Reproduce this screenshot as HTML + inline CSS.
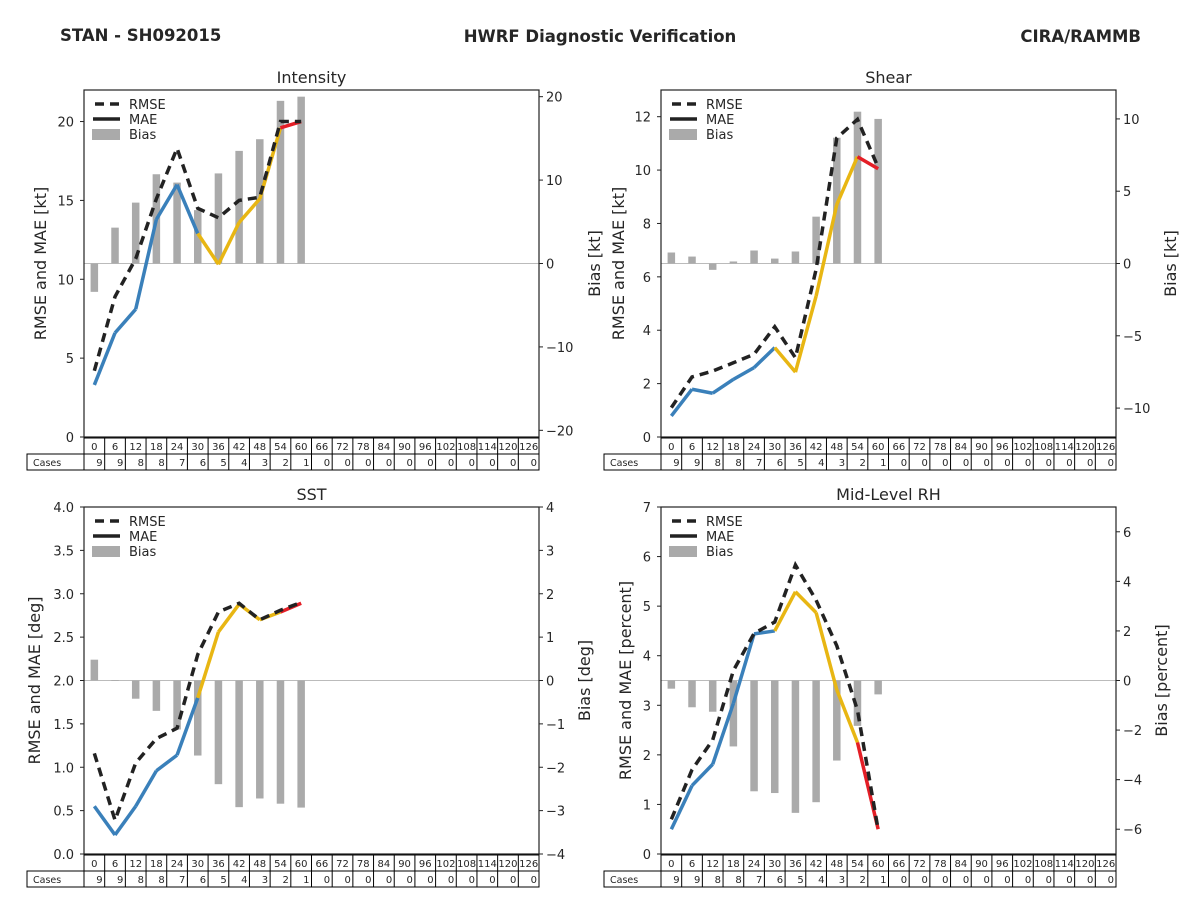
<!DOCTYPE html>
<html><head><meta charset="utf-8"><style>
html,body{margin:0;padding:0;background:#fff;width:1200px;height:900px;overflow:hidden}
svg{display:block;font-family:"DejaVu Sans","Liberation Sans",sans-serif}
</style></head><body>
<svg id="fig" width="1200" height="900" viewBox="0 0 1200 900">
<text x="60" y="41" font-size="16.5" font-weight="bold" fill="#262626">STAN - SH092015</text>
<text x="600" y="42" font-size="16.5" font-weight="bold" fill="#262626" text-anchor="middle">HWRF Diagnostic Verification</text>
<text x="1141" y="42" font-size="16.5" font-weight="bold" fill="#262626" text-anchor="end">CIRA/RAMMB</text>
</svg>
<script>
const leadTimes = [0,6,12,18,24,30,36,42,48,54,60,66,72,78,84,90,96,102,108,114,120,126];
const cases = [9,9,8,8,7,6,5,4,3,2,1,0,0,0,0,0,0,0,0,0,0,0];

const intensityRmse = [4.2,8.9,11.3,15.1,18.3,14.5,13.9,15.0,15.2,20.0,20.0];
const intensityMae = [3.3,6.6,8.1,13.8,16.0,12.9,10.95,13.6,15.1,19.6,20.0];
const intensityBias = [-3.4,4.3,7.3,10.7,9.7,6.4,10.8,13.5,14.9,19.5,20.0];
const intensityLeftTicks = [0,5,10,15,20];
const intensityRightTicks = [-20,-10,0,10,20];

const shearRmse = [1.1,2.25,2.47,2.78,3.1,4.13,2.97,6.28,11.2,11.9,10.1];
const shearMae = [0.79,1.79,1.64,2.16,2.6,3.35,2.43,5.28,8.71,10.5,10.05];
const shearBias = [0.76,0.48,-0.44,0.14,0.9,0.34,0.83,3.24,8.7,10.5,10.0];
const shearLeftTicks = [0,2,4,6,8,10,12];
const shearRightTicks = [-10,-5,0,5,10];

const sstRmse = [1.16,0.39,1.05,1.33,1.45,2.3,2.79,2.89,2.7,2.81,2.9];
const sstMae = [0.55,0.22,0.55,0.96,1.14,1.8,2.56,2.88,2.7,2.79,2.89];
const sstBias = [0.48,0.01,-0.42,-0.7,-1.13,-1.73,-2.39,-2.92,-2.72,-2.84,-2.93];
const sstLeftTicks = [0,0.5,1,1.5,2,2.5,3,3.5,4];
const sstRightTicks = [-4,-3,-2,-1,0,1,2,3,4];

const rhRmse = [0.7,1.7,2.3,3.7,4.45,4.68,5.83,5.12,4.2,2.9,0.49];
const rhMae = [0.5,1.38,1.81,3.04,4.44,4.5,5.29,4.87,3.31,2.25,0.5];
const rhBias = [-0.33,-1.08,-1.26,-2.66,-4.47,-4.54,-5.34,-4.91,-3.23,-1.83,-0.56];
const rhLeftTicks = [0,1,2,3,4,5,6,7];
const rhRightTicks = [-6,-4,-2,0,2,4,6];

const NS='http://www.w3.org/2000/svg';
const svg=document.getElementById('fig');
function mk(tag,attrs,parent){const e=document.createElementNS(NS,tag);for(const k in attrs)e.setAttribute(k,attrs[k]);(parent||svg).appendChild(e);return e;}
function fmt(v,dec){let s=v.toFixed(dec);if(v<0)s='\u2212'+s.slice(1);return s;}

const panels=[
 {key:'intensity',title:'Intensity',x0:84,x1:539,y0:90,y1:437,lmax:22,rmax:20.8,rmse:intensityRmse,mae:intensityMae,bias:intensityBias,lt:intensityLeftTicks,rt:intensityRightTicks,ldec:0,rdec:0,ylab:'RMSE and MAE [kt]',rlab:'Bias [kt]',lx:46,rx:600},
 {key:'shear',title:'Shear',x0:661,x1:1116,y0:90,y1:437,lmax:13,rmax:12,rmse:shearRmse,mae:shearMae,bias:shearBias,lt:shearLeftTicks,rt:shearRightTicks,ldec:0,rdec:0,ylab:'RMSE and MAE [kt]',rlab:'Bias [kt]',lx:624,rx:1176},
 {key:'sst',title:'SST',x0:84,x1:539,y0:507,y1:854,lmax:4,rmax:4,rmse:sstRmse,mae:sstMae,bias:sstBias,lt:sstLeftTicks,rt:sstRightTicks,ldec:1,rdec:0,ylab:'RMSE and MAE [deg]',rlab:'Bias [deg]',lx:40,rx:590},
 {key:'rh',title:'Mid-Level RH',x0:661,x1:1116,y0:507,y1:854,lmax:7,rmax:7,rmse:rhRmse,mae:rhMae,bias:rhBias,lt:rhLeftTicks,rt:rhRightTicks,ldec:0,rdec:0,ylab:'RMSE and MAE [percent]',rlab:'Bias [percent]',lx:631,rx:1167}
];

function segColor(c){return c>=6?'#3a80ba':(c>=2?'#e8b613':'#e41e26');}

panels.forEach(p=>{
 const g=mk('g',{});
 
 
 const n=leadTimes.length, cw=(p.x1-p.x0)/n;
 const X=i=>p.x0+cw*(i+0.5);
 const YL=v=>p.y1-(v/p.lmax)*(p.y1-p.y0);
 const ym=(p.y0+p.y1)/2;
 const YR=v=>ym-(v/p.rmax)*((p.y1-p.y0)/2);
 const t=mk('text',{x:(p.x0+p.x1)/2,y:p.y0-7,'font-size':16,'text-anchor':'middle',fill:'#262626'},g);
 t.textContent=p.title;
 
 
 const zl=mk('line',{x1:p.x0,x2:p.x1,y1:YR(0),y2:YR(0),stroke:'#bbb','stroke-width':1},g);
 
 
 p.bias.forEach((b,i)=>{
  const y=Math.min(YR(b),YR(0)),h=Math.abs(YR(b)-YR(0));
  const r=mk('rect',{x:X(i)-3.75,y:y,width:7.5,height:Math.max(h,0.8),fill:'#aaaaaa'},g);
  
  
 });
 for(let i=0;i<p.mae.length-1;i++){
  const l=mk('line',{x1:X(i),y1:YL(p.mae[i]),x2:X(i+1),y2:YL(p.mae[i+1]),stroke:segColor(cases[i+1]),'stroke-width':3.5},g);
  
  
 }
 const pts=p.rmse.map((v,i)=>X(i)+','+YL(v)).join(' ');
 const pl=mk('polyline',{points:pts,fill:'none',stroke:'#222','stroke-width':3.5,'stroke-dasharray':'9,6'},g);
 
 
 const fr=mk('rect',{x:p.x0,y:p.y0,width:p.x1-p.x0,height:p.y1-p.y0,fill:'none',stroke:'#222','stroke-width':1.2},g);
 
 
 p.lt.forEach(v=>{
  const y=YL(v);
  mk('line',{x1:p.x0-4,x2:p.x0,y1:y,y2:y,stroke:'#222'},g);
  const tt=mk('text',{x:p.x0-10,y:y+5,'font-size':13,'text-anchor':'end',fill:'#262626'},g);
  tt.textContent=fmt(v,p.ldec);
  
  
 });
 p.rt.forEach(v=>{
  const y=YR(v);
  mk('line',{x1:p.x1,x2:p.x1+4,y1:y,y2:y,stroke:'#222'},g);
  const tt=mk('text',{x:p.x1+7,y:y+5,'font-size':13,fill:'#262626'},g);
  tt.textContent=fmt(v,p.rdec);
  
  
 });
 const yl=mk('text',{x:p.lx,y:(p.y0+p.y1)/2,'font-size':16,'text-anchor':'middle',fill:'#262626',transform:`rotate(-90 ${p.lx} ${(p.y0+p.y1)/2})`},g);
 yl.textContent=p.ylab;
 
 
 const ry=ym;
 const rl=mk('text',{x:p.rx,y:ry,'font-size':16,'text-anchor':'middle',fill:'#262626',transform:`rotate(-90 ${p.rx} ${ry})`},g);
 rl.textContent=p.rlab;
 
 
 const lg=mk('g',{},g);
 
 
 const lx=p.x0+8, ly=p.y0+14;
 mk('line',{x1:lx+3,x2:lx+27,y1:ly,y2:ly,stroke:'#222','stroke-width':3.5,'stroke-dasharray':'9,6'},lg);
 mk('line',{x1:lx+1,x2:lx+28,y1:ly+15,y2:ly+15,stroke:'#222','stroke-width':3.5},lg);
 mk('rect',{x:lx,y:ly+25,width:28,height:11,fill:'#aaaaaa'},lg);
 [['RMSE',ly+5],['MAE',ly+20],['Bias',ly+35]].forEach(([s,y])=>{
  const e=mk('text',{x:lx+37,y:y,'font-size':13,fill:'#262626'},lg);
  e.textContent=s;
  
  
 });
 const tb=mk('g',{},g);
 
 
 const r1=p.y1+1, r2=p.y1+17, r3=p.y1+33;
 mk('rect',{x:p.x0,y:r1,width:p.x1-p.x0,height:r3-r1,fill:'none',stroke:'#000','stroke-width':1},tb);
 mk('rect',{x:p.x0-57,y:r2,width:57,height:r3-r2,fill:'none',stroke:'#000','stroke-width':1},tb);
 mk('line',{x1:p.x0,x2:p.x1,y1:r2,y2:r2,stroke:'#000'},tb);
 const cl=mk('text',{x:p.x0-51,y:r3-4,'font-size':9.5,fill:'#262626'},tb);
 cl.textContent='Cases';
 leadTimes.forEach((lt,i)=>{
  const cx=p.x0+cw*i;
  if(i>0) mk('line',{x1:cx,x2:cx,y1:r1,y2:r3,stroke:'#000'},tb);
  const h=mk('text',{x:cx+cw/2,y:r2-4,'font-size':10,'text-anchor':'middle',fill:'#262626'},tb);
  h.textContent=lt;
  
  
  const c=mk('text',{x:cx+cw-2,y:r3-4,'font-size':10,'text-anchor':'end',fill:'#262626'},tb);
  c.textContent=cases[i];
  
  
 });
});
</script>
</body></html>
